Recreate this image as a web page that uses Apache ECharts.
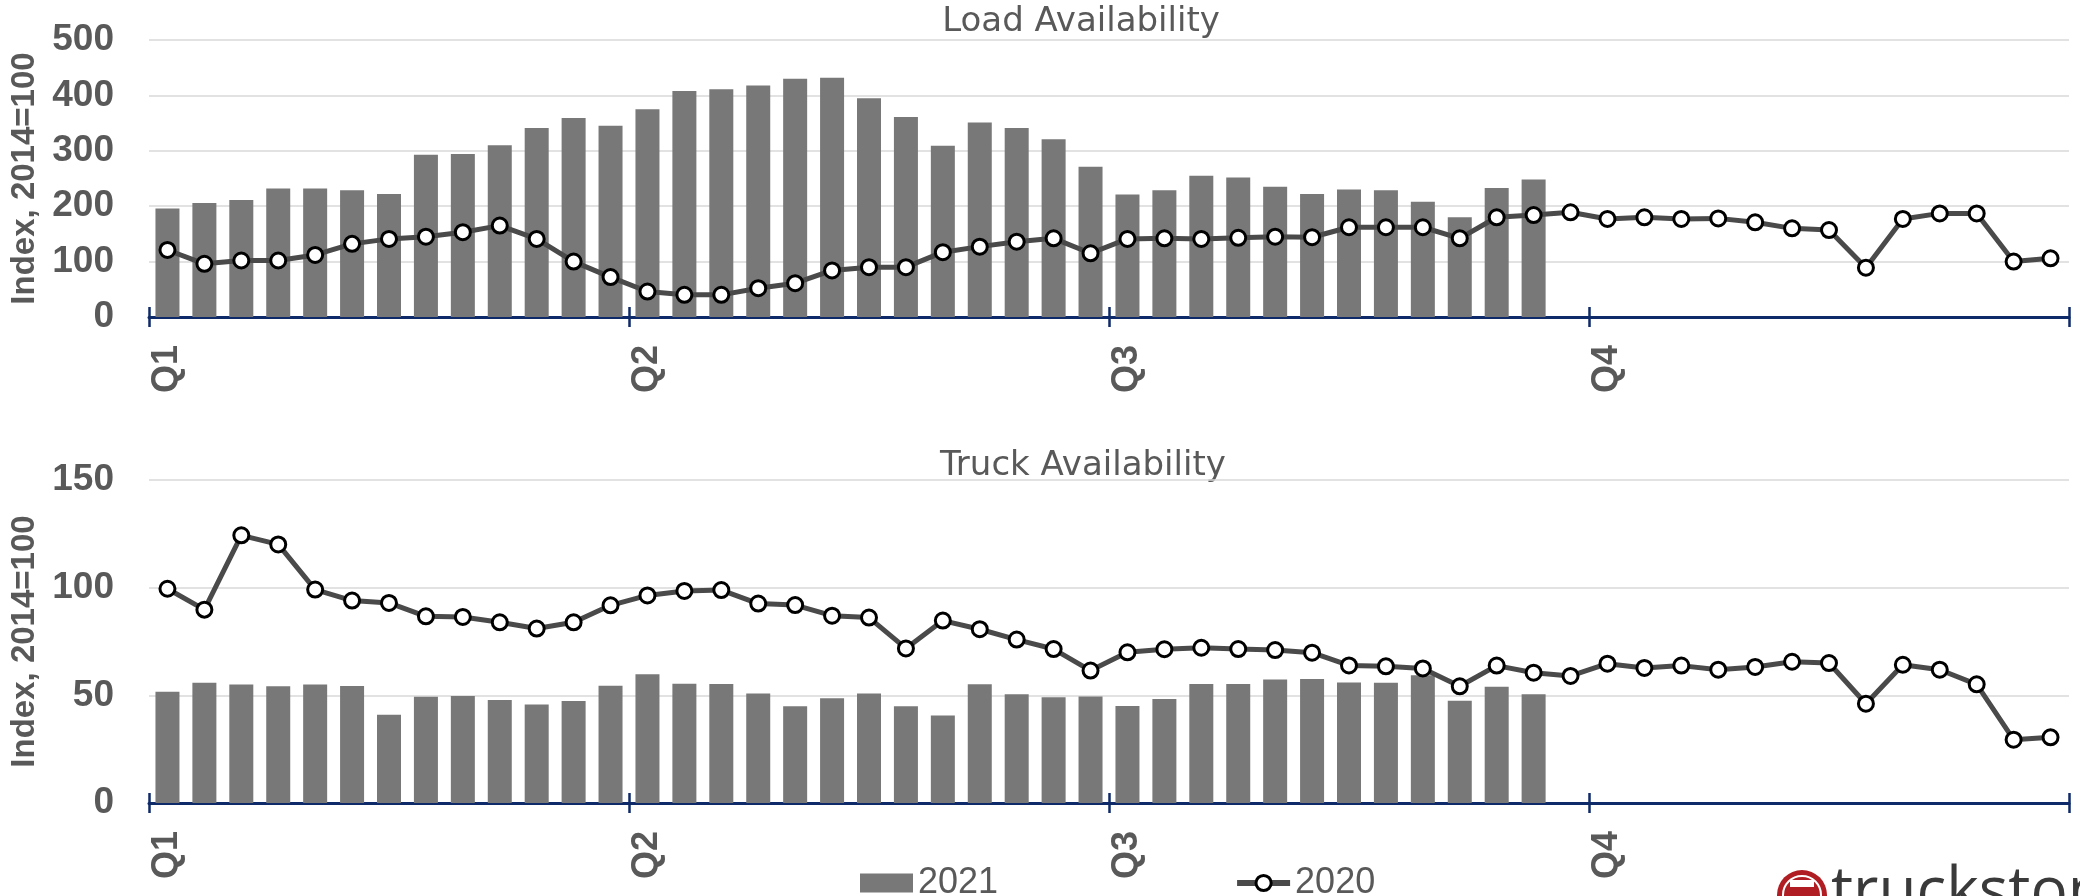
<!DOCTYPE html>
<html><head><meta charset="utf-8">
<script src="https://cdn.jsdelivr.net/npm/echarts@6/dist/echarts.min.js"></script>
<style>html,body{margin:0;padding:0;background:#fff}#c{width:2080px;height:896px}</style>
</head><body><div id="c"></div><script>
// categories: 52 weeks, labelled by quarter
const weeks = Array.from({length: 52}, (_, i) => 'W' + (i + 1));
const quarterLabels = ['Q1', 'Q2', 'Q3', 'Q4'];
const loadTicks = [0, 100, 200, 300, 400, 500];
const truckTicks = [0, 50, 100, 150];

const load2021 = [196,206,211,232,232,229,222,293,294,310,341,359,345,375,408,411,418,430,432,395,361,309,351,341,321,271,221,229,255,252,235,222,230,229,208,180,233,248];
const load2020 = [121,96,102,102,112,132,141,145,153,165,141,100,72,46,40,40,52,61,84,90,90,117,127,136,142,115,141,142,141,143,145,144,162,162,162,142,180,184,189,177,180,177,178,171,160,157,89,177,187,187,100,106];
const truck2021 = [51.7,55.9,55.0,54.2,55.0,54.3,41.0,49.4,49.7,47.8,45.7,47.4,54.5,59.8,55.4,55.3,50.8,44.9,48.6,50.9,44.9,40.6,55.1,50.5,49.1,49.5,45.0,48.3,55.3,55.3,57.4,57.6,56.0,55.9,59.3,47.5,54.0,50.5];
const truck2020 = [99.5,89.8,124.3,120.1,99.1,94.0,92.9,86.7,86.4,83.9,81.0,83.9,91.8,96.4,98.5,98.9,92.6,91.9,87.0,86.1,71.8,84.7,80.7,75.9,71.5,61.5,70.0,71.4,72.1,71.5,71.0,69.8,63.9,63.5,62.5,54.2,63.8,60.5,59.0,64.7,62.7,63.8,61.9,63.2,65.6,65.0,46.1,64.2,61.9,55.1,29.4,30.5];

const grey = '#595959';
const navy = '#0e2a68';
const chart = echarts.init(document.getElementById('c'), null, {renderer: 'canvas'});

function xAxes(gridIndex) {
  return [
    {type: 'category', gridIndex, data: weeks, position: 'bottom', boundaryGap: true,
     axisLine: {lineStyle: {color: navy, width: 3}},
     axisTick: {show: true, interval: 12, length: 10, lineStyle: {color: navy, width: 2.5}},
     axisLabel: {interval: 12, rotate: 90, margin: 28, fontSize: 36, fontWeight: 'bold', color: grey,
       fontFamily: 'Liberation Sans',
       formatter: (v, i) => (i % 13 === 0 ? quarterLabels[i / 13] : '')},
     splitLine: {show: false}},
    {type: 'category', gridIndex, data: weeks, position: 'bottom', boundaryGap: true,
     axisLine: {show: false},
     axisTick: {show: true, inside: true, interval: 12, length: 10, lineStyle: {color: navy, width: 2.5}},
     axisLabel: {show: false}, splitLine: {show: false}}
  ];
}
function yAxis(gridIndex, ticks) {
  return {type: 'value', gridIndex, min: ticks[0], max: ticks[ticks.length - 1], interval: ticks[1] - ticks[0],
    name: 'Index, 2014=100', nameLocation: 'middle', nameGap: 106,
    nameTextStyle: {fontSize: 33, fontWeight: 'bold', color: grey, fontFamily: 'Liberation Sans'},
    axisLine: {show: false}, axisTick: {show: false},
    axisLabel: {fontSize: 37, fontWeight: 'bold', color: grey, margin: 35, fontFamily: 'Liberation Sans'},
    splitLine: {lineStyle: {color: '#d9d9d9', width: 1.5}}};
}
const barStyle = {color: '#787878'};
function lineSeries(data, xi, yi) {
  return {name: '2020', type: 'line', xAxisIndex: xi, yAxisIndex: yi, data,
    symbol: 'circle', symbolSize: 15, z: 5,
    lineStyle: {color: '#4a4a4a', width: 5},
    itemStyle: {color: '#ffffff', borderColor: '#000000', borderWidth: 3}};
}
function barSeries(data, xi, yi) {
  return {name: '2021', type: 'bar', xAxisIndex: xi, yAxisIndex: yi, data, barWidth: 24, itemStyle: barStyle, z: 2};
}

chart.setOption({
  animation: false,
  backgroundColor: '#ffffff',
  grid: [
    {left: 149, right: 11, top: 40, height: 277},
    {left: 149, right: 11, top: 480, height: 323}
  ],
  xAxis: [...xAxes(0), ...xAxes(1)],
  yAxis: [yAxis(0, loadTicks), yAxis(1, truckTicks)],
  legend: {left: 855, top: 860, itemWidth: 53, itemHeight: 19, itemGap: 236,
    data: [{name: '2021', icon: 'rect'},
           {name: '2020', lineStyle: {width: 6, color: '#4a4a4a'}, itemStyle: {color: '#ffffff', borderColor: '#000000', borderWidth: 3}}],
    textStyle: {fontSize: 36, color: grey, fontFamily: 'Liberation Sans'}},
  graphic: [
    {type: 'text', x: 1081, y: 22, style: {text: 'Load Availability', fontSize: 34, fontFamily: 'DejaVu Sans',
      fill: grey, align: 'center', verticalAlign: 'middle'}},
    {type: 'text', x: 1083, y: 466, style: {text: 'Truck Availability', fontSize: 34, fontFamily: 'DejaVu Sans',
      fill: grey, align: 'center', verticalAlign: 'middle'}},
    {type: 'circle', shape: {cx: 1802, cy: 895, r: 25}, style: {fill: '#b01e23'}},
    {type: 'circle', shape: {cx: 1802, cy: 895, r: 19}, style: {fill: 'none', stroke: '#ffffff', lineWidth: 2}},
    {type: 'rect', shape: {x: 1790, y: 880, width: 24, height: 7}, style: {fill: '#ffffff'}},
    {type: 'text', x: 1831, y: 862, style: {text: 'truckstop', fontSize: 62, fontFamily: 'Open Sans',
      fill: '#3a3a3a', align: 'left', verticalAlign: 'top'}}
  ],
  series: [
    barSeries(load2021, 0, 0), lineSeries(load2020, 0, 0),
    barSeries(truck2021, 2, 1), lineSeries(truck2020, 2, 1)
  ]
});
</script></body></html>
